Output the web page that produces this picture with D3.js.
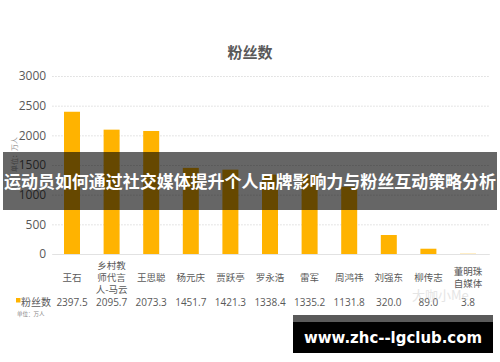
<!DOCTYPE html>
<html>
<head>
<meta charset="utf-8">
<script src="https://cdn.jsdelivr.net/npm/d3@7"></script>
<style>
  body { margin: 0; background: #fff; }
  svg { display: block; font-family: "Noto Sans CJK SC", "Noto Sans", sans-serif; }
</style>
</head>
<body>
<script>
"use strict"

// Data
const names = [
  ["王石"],
  ["乡村教", "师代言", "人-马云"],
  ["王思聪"],
  ["杨元庆"],
  ["贾跃亭"],
  ["罗永浩"],
  ["雷军"],
  ["周鸿祎"],
  ["刘强东"],
  ["柳传志"],
  ["董明珠", "自媒体"],
]
const fans = [2397.5, 2095.7, 2073.3, 1451.7, 1421.3, 1338.4, 1335.2, 1131.8, 320.0, 89.0, 3.8]
const yTicks = [0, 500, 1000, 1500, 2000, 2500, 3000]

const W = 500, H = 362
const margin = { left : 52.2, right : 12.2, top : 76, bottom : 108 }
const gray = "#595959"
const orange = "#FFB300"

const svg = d3.select("body").append("svg").attr("width", W).attr("height", H)

const x = d3.scaleBand().domain(d3.range(fans.length)).range([margin.left, W - margin.right])
const y = d3.scaleLinear().domain([0, 3000]).range([H - margin.bottom, margin.top])
const barW = 16

// Title
svg.append("text").text("粉丝数")
  .attr("x", 250).attr("y", 58).attr("text-anchor", "middle")
  .attr("font-size", 15).attr("font-weight", "bold").attr("fill", gray)

// Grid + y axis
const yAxis = svg.append("g").attr("transform", `translate(${margin.left},0)`)
  .call(d3.axisLeft(y).tickValues(yTicks).tickFormat(d3.format("d"))
    .tickSize(-(W - margin.left - margin.right + 2)).tickPadding(6))
yAxis.select(".domain").remove()
yAxis.selectAll(".tick line")
  .attr("stroke", d => d === 0 ? "#e2e2e2" : "#dcdcdc")
  .attr("stroke-dasharray", d => d === 0 ? null : "1.5,1.5")
yAxis.selectAll(".tick text")
  .attr("font-size", 12).attr("fill", gray).attr("font-family", "'Open Sans', 'Noto Sans', sans-serif")

svg.append("text").text("单位：万人")
  .attr("transform", "translate(17 172) rotate(-90)")
  .attr("font-size", 7).attr("fill", "#999")

// Bars
svg.selectAll(".bar").data(fans).enter().append("rect")
  .attr("class", "bar")
  .attr("x", (d, i) => x(i) + x.bandwidth() / 2 - barW / 2)
  .attr("width", barW)
  .attr("y", d => y(d))
  .attr("height", d => y(0) - y(d))
  .attr("fill", orange)

// Category labels
const lineH = 12
svg.selectAll(".cat").data(names).enter().append("text")
  .attr("class", "cat")
  .attr("text-anchor", "middle")
  .attr("font-size", 9.5).attr("fill", gray)
  .each(function (lines, i) {
    const cx = x(i) + x.bandwidth() / 2
    const y0 = 281 - (lines.length - 1) * lineH / 2
    d3.select(this).selectAll("tspan").data(lines).enter().append("tspan")
      .attr("x", cx).attr("y", (_, j) => y0 + j * lineH).text(t => t)
  })

// Data table row
svg.append("rect").attr("x", 16).attr("y", 298).attr("width", 4.5).attr("height", 4.5).attr("fill", orange)
svg.append("text").text("粉丝数").attr("x", 21).attr("y", 305.5).attr("font-size", 10).attr("fill", gray)
svg.append("text").text("单位：万人").attr("x", 17).attr("y", 316).attr("font-size", 5.5).attr("fill", "#888")
svg.selectAll(".val").data(fans).enter().append("text")
  .attr("class", "val")
  .attr("x", (d, i) => x(i) + x.bandwidth() / 2)
  .attr("y", 306)
  .attr("text-anchor", "middle")
  .attr("font-size", 10).attr("fill", gray)
  .attr("font-family", "'Open Sans', 'Noto Sans', sans-serif")
  .text(d3.format(".1f"))

// Watermark
svg.append("text").text("大咖小Me")
  .attr("x", 412).attr("y", 300).attr("font-size", 13)
  .attr("fill", "#ccc").attr("opacity", 0.5)

// Overlay banner
svg.append("rect").attr("x", 3).attr("y", 152).attr("width", 494).attr("height", 58)
  .attr("fill", "#000").attr("opacity", 0.6)
svg.append("text").text("运动员如何通过社交媒体提升个人品牌影响力与粉丝互动策略分析")
  .attr("x", 250).attr("y", 187.5).attr("text-anchor", "middle")
  .attr("font-size", 17).attr("font-weight", "bold").attr("fill", "#fff")
  .attr("textLength", 492).attr("lengthAdjust", "spacingAndGlyphs")

// URL box
svg.append("rect").attr("x", 293).attr("y", 315).attr("width", 200).attr("height", 7).attr("fill", "#5a5a5a")
svg.append("rect").attr("x", 293).attr("y", 322).attr("width", 200).attr("height", 31).attr("fill", "#000")
svg.append("text").text("www.zhc--lgclub.com")
  .attr("x", 393).attr("y", 343).attr("text-anchor", "middle")
  .attr("font-size", 16).attr("font-weight", "bold").attr("fill", "#fff")
  .attr("font-family", "'DejaVu Sans', 'Noto Sans', sans-serif")
  .attr("textLength", 178).attr("lengthAdjust", "spacingAndGlyphs")
</script>
</body>
</html>
